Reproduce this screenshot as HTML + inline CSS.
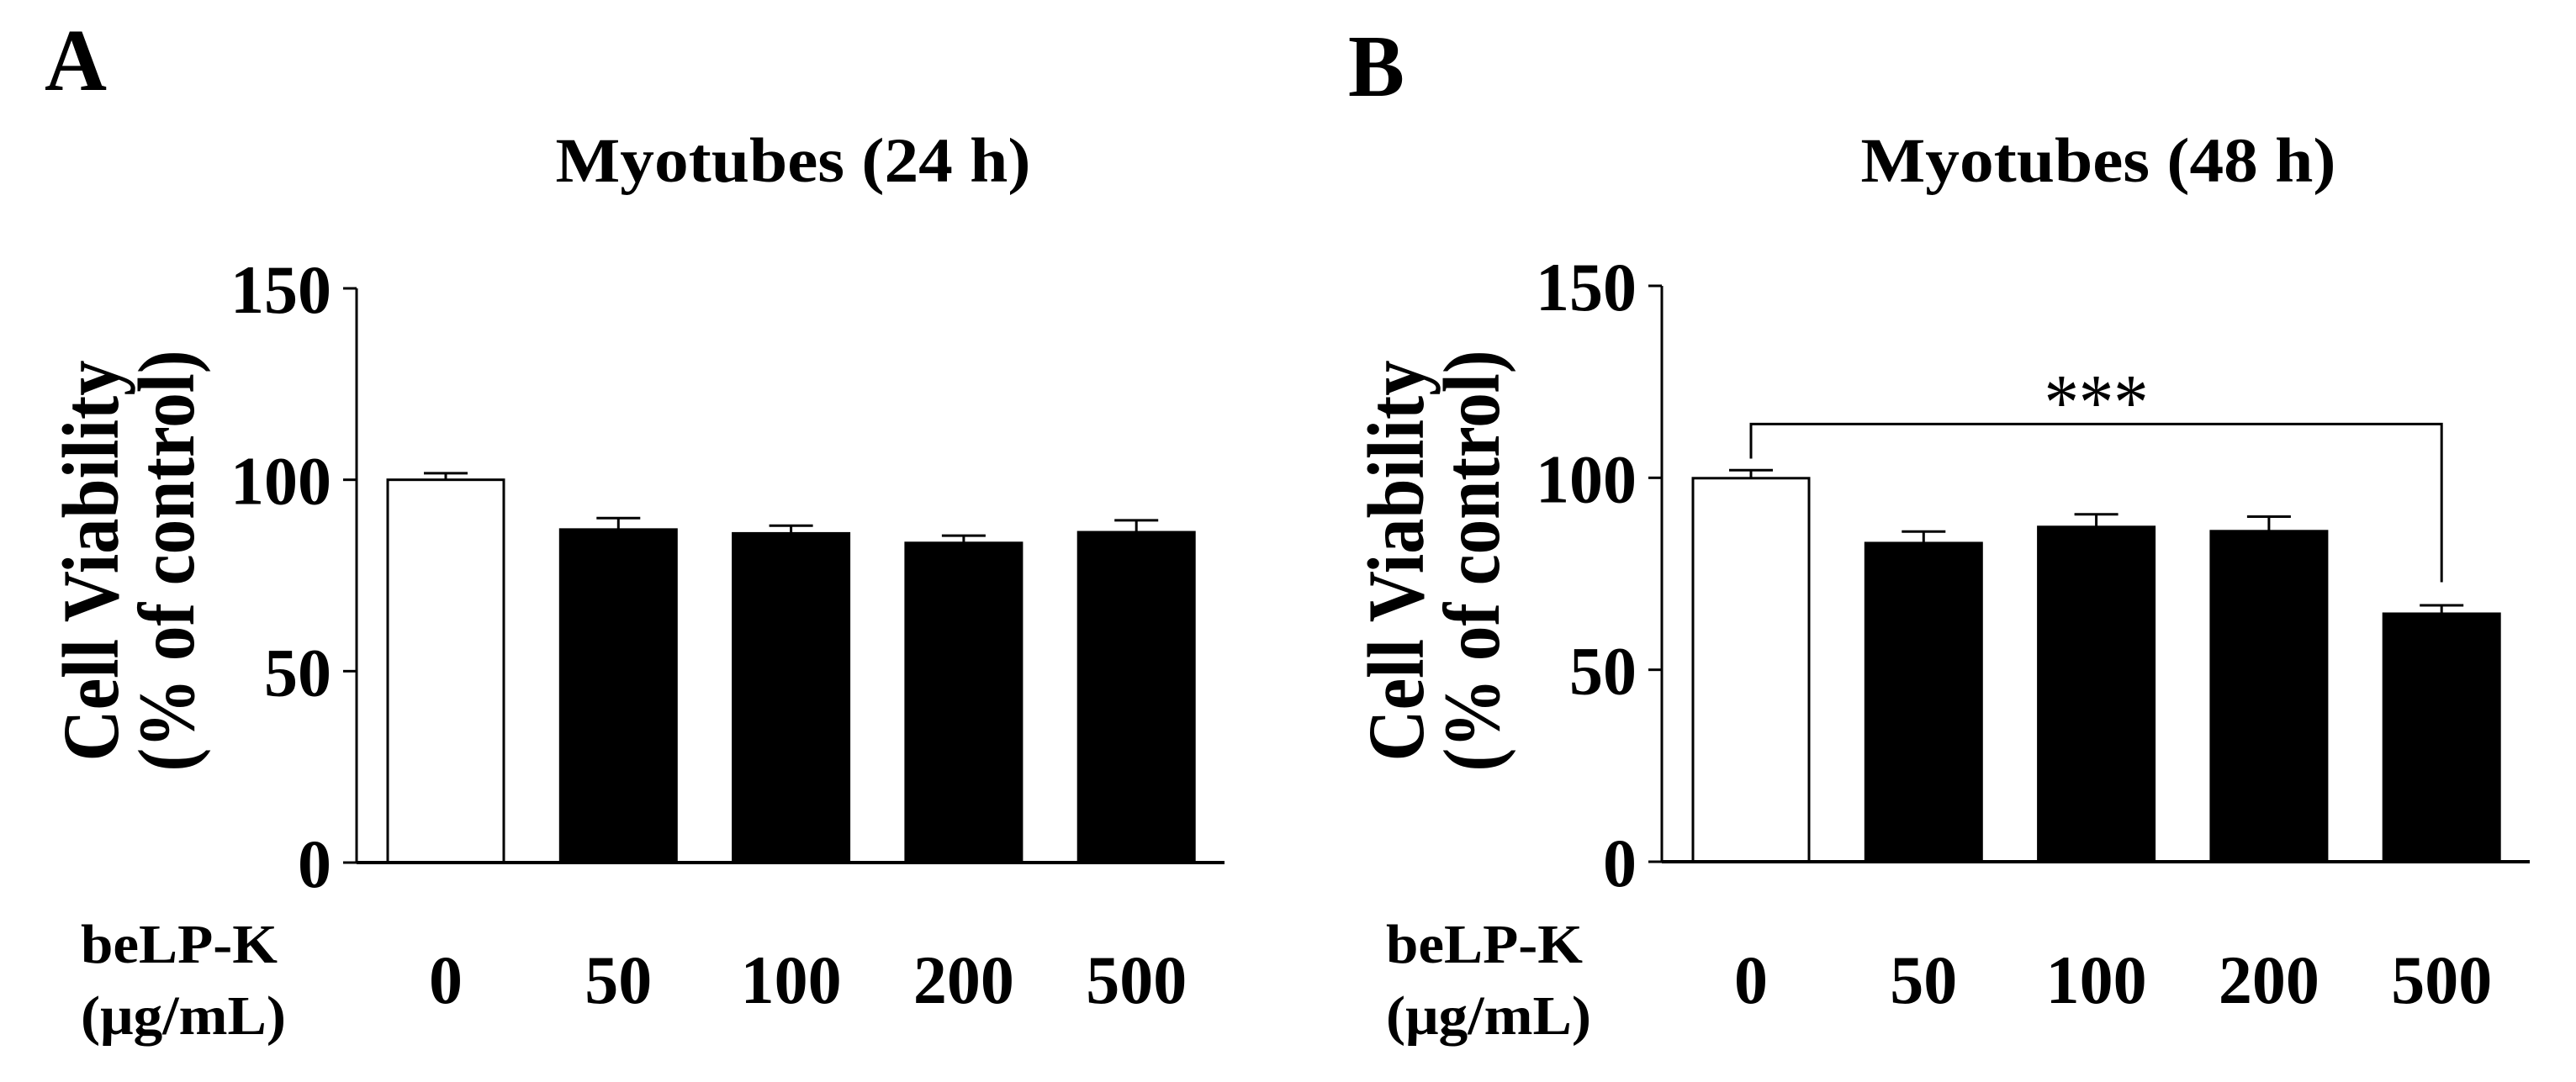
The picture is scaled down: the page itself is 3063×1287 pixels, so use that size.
<!DOCTYPE html>
<html><head><meta charset="utf-8"><style>
html,body{margin:0;padding:0;background:#fff;}
svg{display:block;}
text{font-family:"Liberation Serif",serif;font-weight:bold;fill:#000;}
</style></head><body>
<svg id="fig" width="3063" height="1287" viewBox="0 0 3063 1287" xmlns="http://www.w3.org/2000/svg">
<text x="53" y="107" font-size="105" textLength="74" lengthAdjust="spacingAndGlyphs">A</text>
<text x="1603" y="114" font-size="105" textLength="67" lengthAdjust="spacingAndGlyphs">B</text>
</svg>
<script>
const categories = ["0", "50", "100", "200", "500"];
const valuesA = [100, 87, 86, 83.5, 86.3];
const errorsA = [1.7, 3, 2, 1.9, 3.1];
const valuesB = [99.9, 83, 87.2, 86.1, 64.6];
const errorsB = [2.1, 3, 3.3, 3.8, 2.2];
const yTicks = [0, 50, 100, 150];
const titles = ["Myotubes (24 h)", "Myotubes (48 h)"];

const NS = "http://www.w3.org/2000/svg";
const svg = document.getElementById("fig");
function mk(tag, attrs, parent) {
  const e = document.createElementNS(NS, tag);
  for (const k in attrs) e.setAttribute(k, attrs[k]);
  (parent || svg).appendChild(e);
  return e;
}

function panel(ox, y0, y150, values, errors, title, key) {
  const g = mk("g", {});
  
  
  const axisX = ox, axisEnd = ox + 1032;
  const yScale = v => y0 - (v / 150) * (y0 - y150);
  const bandStart = ox + 37, step = 205.3, bw = 138;
  const xCenter = i => bandStart + i * step + bw / 2;

  const t = mk("text", {x: ox + 519, y: 216, "font-size": 75, "text-anchor": "middle", textLength: 565, lengthAdjust: "spacingAndGlyphs"}, g);
  t.textContent = title;
  
  

  const yt = mk("g", {transform: "translate(" + (ox - 284) + "," + 667 + ") rotate(-90)"}, g);
  
  
  const l1 = mk("text", {x: 0, y: 0, "font-size": 95, "text-anchor": "middle", textLength: 477, lengthAdjust: "spacingAndGlyphs"}, yt);
  l1.textContent = "Cell Viability";
  const l2 = mk("text", {x: 0, y: 90, "font-size": 95, "text-anchor": "middle", textLength: 501, lengthAdjust: "spacingAndGlyphs"}, yt);
  l2.textContent = "(% of control)";

  values.forEach((v, i) => {
    const x = bandStart + i * step;
    const top = yScale(v);
    const errTop = yScale(v + errors[i]);
    const cx = xCenter(i);
    const eb = mk("line", {x1: cx, x2: cx, y1: top, y2: errTop, stroke: "#000", "stroke-width": 3}, g);
    
    
    const cap = mk("line", {x1: cx - 26, x2: cx + 26, y1: errTop, y2: errTop, stroke: "#000", "stroke-width": 3}, g);
    
    
    const r = mk("rect", {x: x, y: top, width: bw, height: y0 - top, fill: i === 0 ? "#fff" : "#000", stroke: "#000", "stroke-width": 3}, g);
    
    
    const lab = mk("text", {x: cx, y: 1193, "font-size": 82, "text-anchor": "middle", textLength: categories[i].length * 40, lengthAdjust: "spacingAndGlyphs"}, g);
    lab.textContent = categories[i];
    
    
  });

  const ya = mk("line", {x1: axisX, x2: axisX, y1: y150, y2: y0, stroke: "#000", "stroke-width": 3}, g);
  
  
  const xa = mk("line", {x1: axisX, x2: axisEnd, y1: y0, y2: y0, stroke: "#000", "stroke-width": 4}, g);
  
  
  yTicks.forEach(tv => {
    const y = yScale(tv);
    const tk = mk("line", {x1: axisX - 16, x2: axisX, y1: y, y2: y, stroke: "#000", "stroke-width": 3}, g);
    
    
    const s = String(tv);
    const tl = mk("text", {x: axisX - 30, y: y + 29, "font-size": 82, "text-anchor": "end", textLength: s.length * 40, lengthAdjust: "spacingAndGlyphs"}, g);
    tl.textContent = s;
    
    
  });

  const xt = mk("g", {}, g);
  
  
  const a1 = mk("text", {x: ox - 328, y: 1145, "font-size": 66, textLength: 234, lengthAdjust: "spacingAndGlyphs"}, xt);
  a1.textContent = "beLP-K";
  const a2 = mk("text", {x: ox - 328, y: 1230, "font-size": 66, textLength: 244, lengthAdjust: "spacingAndGlyphs"}, xt);
  a2.textContent = "(μg/mL)";

  return {yScale, xCenter, g};
}

panel(424, 1026, 343, valuesA, errorsA, titles[0], "a");
const pb = panel(1976, 1025, 340, valuesB, errorsB, titles[1], "b");

const sigFrom = 0, sigTo = 4, sigLevel = 114;
const by = pb.yScale(sigLevel);
const x1 = pb.xCenter(sigFrom), x2 = pb.xCenter(sigTo);
const br = mk("polyline", {points: x1 + "," + pb.yScale(valuesB[sigFrom] + errorsB[sigFrom] + 3) + " " + x1 + "," + by + " " + x2 + "," + by + " " + x2 + "," + pb.yScale(valuesB[sigTo] + errorsB[sigTo] + 6), fill: "none", stroke: "#000", "stroke-width": 3}, pb.g);


const st = mk("text", {x: (x1 + x2) / 2, y: by + 6, "font-size": 95, "text-anchor": "middle", textLength: 124, lengthAdjust: "spacingAndGlyphs", style: "font-weight:normal"}, pb.g);
st.textContent = "***";


</script>
</body></html>
